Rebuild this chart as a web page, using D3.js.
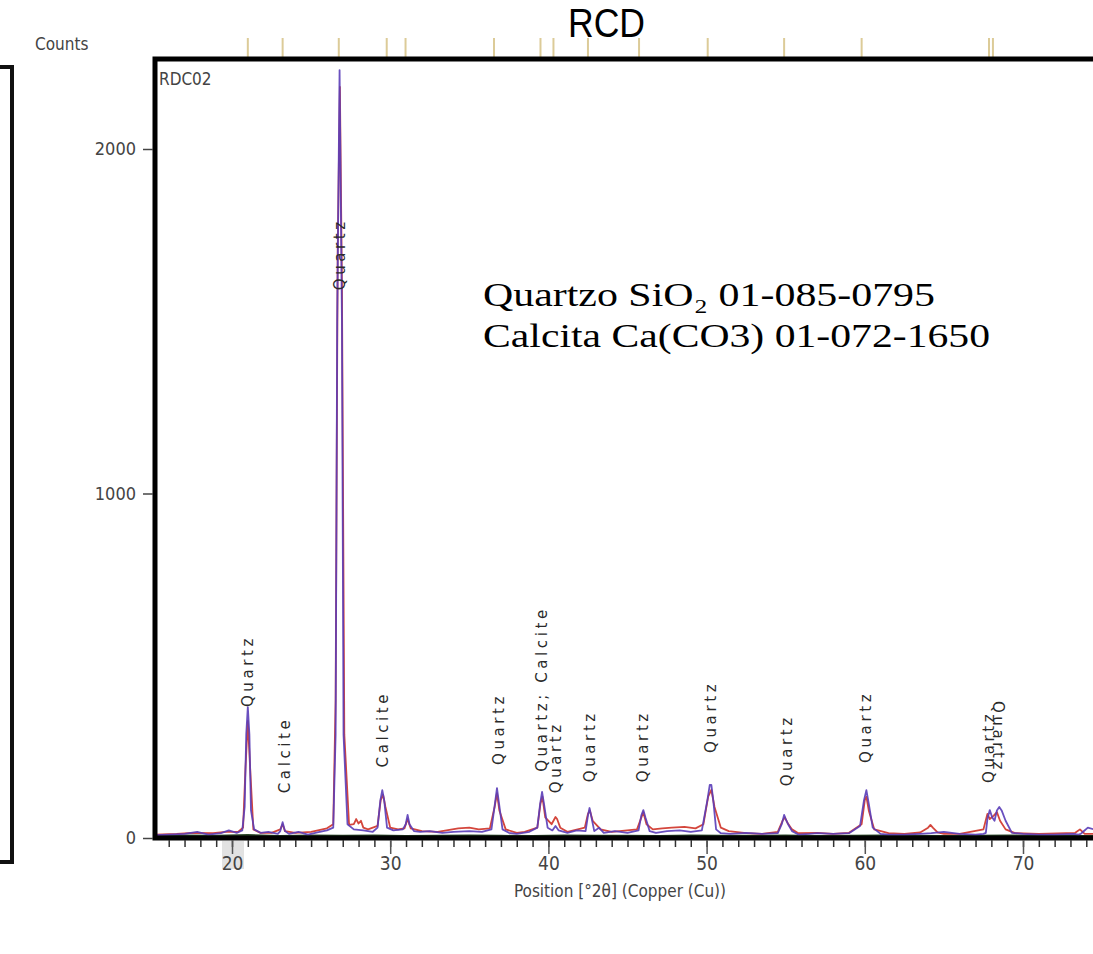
<!DOCTYPE html>
<html><head><meta charset="utf-8">
<script src="https://cdn.jsdelivr.net/npm/d3@7"></script>
<style>body{margin:0;background:#fff}svg{display:block}</style>
</head><body>
<script>
// ---- data (2θ in degrees, counts) ----
const blueTheta = [15.1,16,17,17.8,18.5,19.3,19.8,20.3,20.65,20.8,20.9,21.0,21.1,21.2,21.4,21.8,22.3,22.9,23.05,23.2,23.35,23.6,24.2,24.8,25.4,26.0,26.4,26.55,26.65,26.8,26.95,27.05,27.3,27.7,28.3,28.9,29.2,29.38,29.5,29.62,29.8,30.2,30.8,30.98,31.1,31.22,31.5,31.9,32.5,33.3,34,35,35.8,36.4,36.62,36.75,36.88,37.1,37.5,38,38.8,39.3,39.48,39.6,39.72,39.95,40.25,40.45,40.65,41.2,41.8,42.35,42.5,42.6,42.7,42.9,43.2,43.5,44.2,45,45.7,45.87,46.0,46.13,46.4,46.8,47.5,48.3,49,49.7,50.05,50.2,50.3,50.42,50.6,50.9,51.5,52.5,53.5,54.5,54.75,54.9,55.0,55.15,55.4,55.8,56.5,57,58,59,59.7,59.95,60.1,60.25,60.5,61,61.5,62.5,63.5,64.2,65,66,67,67.5,67.65,67.75,67.9,68.05,68.2,68.35,68.5,68.65,68.9,69.3,70,71,72,73.2,73.5,73.65,73.8,74.1,75];
const blueCounts = [8,10,12,18,10,14,22,15,22,90,300,380,300,80,25,15,18,12,20,46,20,12,18,10,16,22,30,300,1500,2229,1500,300,40,25,22,18,30,110,139,110,30,22,25,40,67,40,20,18,20,15,18,20,18,25,100,145,100,25,15,12,18,30,100,134,100,30,22,35,22,15,22,20,65,87,65,20,30,15,20,15,22,65,81,60,20,15,20,22,18,22,110,154,154,110,25,14,12,15,12,14,40,67,55,40,20,10,12,14,12,14,35,110,139,100,30,12,10,10,12,14,18,12,10,12,15,55,81,60,50,80,90,80,50,15,12,10,10,12,10,12,18,30,18,10,12];
const redTheta = [15.1,16.5,17.5,18.8,19.6,20.4,20.7,20.85,21.0,21.15,21.35,21.8,22.5,23.05,23.2,23.35,24,25,26.0,26.4,26.55,26.68,26.82,26.95,27.1,27.4,27.7,27.85,28.0,28.15,28.3,28.6,29.2,29.4,29.55,29.7,30.0,30.5,30.9,31.1,31.3,32,33,34.3,35,35.6,36.3,36.6,36.75,36.9,37.3,38,38.5,39.3,39.5,39.62,39.8,40.2,40.45,40.55,40.75,41.2,42.3,42.5,42.62,42.8,43.3,44,44.5,45.6,45.88,46.0,46.2,46.6,47.2,47.8,48.6,49.3,49.8,50.1,50.3,50.5,50.9,51.4,52.5,53.5,54.5,54.8,54.95,55.1,55.4,55.8,57,58,59,59.8,60.0,60.1,60.25,60.6,61.5,62.5,63.5,64.0,64.15,64.3,64.6,65,66,67.5,67.75,67.9,68.15,68.35,68.55,68.9,69.5,71,73.3,73.6,73.9,75];
const redCounts = [10,12,15,14,18,18,30,200,340,200,25,15,15,25,40,20,15,18,28,40,400,1700,2180,1600,300,38,40,55,42,50,30,25,35,110,125,90,30,25,28,55,28,20,18,28,30,25,28,90,130,80,25,15,18,30,100,120,60,40,61,55,30,18,30,70,80,50,25,18,20,25,60,75,40,25,28,30,32,28,40,120,140,90,30,20,14,12,18,50,60,45,25,14,15,12,15,40,110,120,80,25,14,12,16,30,38,30,16,12,12,25,70,55,65,75,50,25,14,12,15,25,12,12];
const greenTheta = [15.1,17,19,21,23,25,27,29,31,33,35,37,39,41,43,45,47,49,51,53,55,57,59,61,63,65,67,69,71,73,75];
const greenCounts = [5,6,5,7,4,6,5,6,4,5,6,5,4,6,5,5,4,6,5,5,6,4,5,6,5,4,5,6,5,4,5];
const refLines = [21.0,23.2,26.75,29.78,30.97,36.56,39.5,40.32,42.5,45.73,50.07,54.9,59.8,67.85,68.1];
const peakLabels = [
  {t:21.0,  c:380, text:"Quartz"},
  {t:23.35, c:130, text:"Calcite"},
  {t:26.85, c:1590, text:"Quartz"},
  {t:29.55, c:205, text:"Calcite"},
  {t:36.85, c:212, text:"Quartz"},
  {t:39.6,  c:192, text:"Quartz;  Calcite"},
  {t:40.45, c:130, text:"Quartz"},
  {t:42.6,  c:162, text:"Quartz"},
  {t:45.95, c:162, text:"Quartz"},
  {t:50.25, c:247, text:"Quartz"},
  {t:55.1,  c:150, text:"Quartz"},
  {t:60.1,  c:218, text:"Quartz"}
];
const xTicks = [20,30,40,50,60,70];
const yTicks = [0,1000,2000];
const legendLines = ["Quartzo SiO\u2082 01-085-0795","Calcita Ca(CO3) 01-072-1650"];

// ---- drawing ----
const W=1093,H=954;
const svg=d3.select("body").append("svg").attr("width",W).attr("height",H);
const x=d3.scaleLinear().domain([20,70]).range([232,1023]);
const y=d3.scaleLinear().domain([0,2000]).range([838,149]);
const yMax=y.invert(59);
const narrow="'Liberation Sans Narrow','DejaVu Sans Condensed','Arial Narrow',sans-serif";

// title
svg.append("text").attr("x",568).attr("y",37).attr("textLength",77).attr("lengthAdjust","spacingAndGlyphs")
  .attr("font-family","'Liberation Sans',Arial,sans-serif").attr("font-size",40).attr("fill","#000").text("RCD");

// left partial panel
svg.append("path").attr("d","M0,67 H12 V862 H0").attr("fill","none").attr("stroke","#111").attr("stroke-width",4);

// reference lines (top)
svg.append("g").selectAll("line").data(refLines).join("line")
  .attr("x1",d=>x(d)).attr("x2",d=>x(d)).attr("y1",38).attr("y2",58)
  .attr("stroke","#dccb98").attr("stroke-width",2);

// faint smudge under axis
svg.append("rect").attr("x",222).attr("y",841).attr("width",22).attr("height",28).attr("fill","#d6d6d6").attr("opacity",0.7);

svg.append("clipPath").attr("id","c").append("rect").attr("x",155).attr("y",60).attr("width",W).attr("height",785);
const plot=svg.append("g").attr("clip-path","url(#c)");
const line=d3.line().x(d=>x(d[0])).y(d=>y(d[1]));
plot.append("path").datum(d3.zip(greenTheta,greenCounts)).attr("d",line)
  .attr("fill","none").attr("stroke","#2c4a2a").attr("stroke-width",3);
plot.append("path").datum(d3.zip(redTheta,redCounts)).attr("d",line)
  .attr("fill","none").attr("stroke","#d4463c").attr("stroke-width",1.8).attr("stroke-linejoin","round");
plot.append("path").datum(d3.zip(blueTheta,blueCounts)).attr("d",line)
  .attr("fill","none").attr("stroke","#5a3db8").attr("stroke-width",1.8).attr("stroke-linejoin","round").attr("opacity",0.9);

// frame
svg.append("path").attr("d",`M${W+5},${y(yMax)} H155 V838 H${W+5}`).attr("fill","none").attr("stroke","#000").attr("stroke-width",5);

// x axis ticks
const xa=svg.append("g").attr("transform","translate(0,840)")
  .call(d3.axisBottom(x).tickValues(d3.range(16,75,1)).tickSize(7).tickFormat(""));
xa.select(".domain").remove();
xa.selectAll("line").attr("stroke","#333").attr("stroke-width",1.5);
const xb=svg.append("g").attr("transform","translate(0,840)")
  .call(d3.axisBottom(x).tickValues(xTicks).tickSize(14).tickPadding(3));
xb.select(".domain").remove();
xb.selectAll("line").attr("stroke","#555").attr("stroke-width",1.5);
xb.selectAll("text").attr("font-family",narrow).attr("font-size",19).attr("fill","#444");

// y axis
const ya=svg.append("g").attr("transform","translate(153,0)")
  .call(d3.axisLeft(y).tickValues(yTicks).tickSize(10).tickPadding(7).tickFormat(d3.format("d")));
ya.select(".domain").remove();
ya.selectAll("line").attr("stroke","#444").attr("stroke-width",1.5);
ya.selectAll("text").attr("font-family",narrow).attr("font-size",18).attr("fill","#444");

svg.append("text").attr("x",35).attr("y",50).attr("font-family",narrow).attr("font-size",17).attr("fill","#444").text("Counts");
svg.append("text").attr("x",159).attr("y",85).attr("font-family",narrow).attr("font-size",17).attr("fill","#444").text("RDC02");
svg.append("text").attr("x",620).attr("y",897).attr("text-anchor","middle").attr("font-family",narrow).attr("font-size",17).attr("fill","#444").text("Position [°2θ] (Copper (Cu))");

// peak labels
const lab=svg.append("g").attr("font-family","'DejaVu Sans',sans-serif").attr("font-size",15).attr("fill","#2a2a2a").attr("letter-spacing",3.6);
lab.selectAll("text").data(peakLabels).join("text")
  .attr("transform",d=>`translate(${x(d.t)+5},${y(d.c)}) rotate(-90)`).text(d=>d.text);
// overlapping pair at 68°
lab.append("text").attr("transform",`translate(${x(67.85)+5},${y(160)}) rotate(-90)`).text("Quartz");
lab.append("text").attr("transform",`translate(${x(68.4)-5},${y(398)}) rotate(90)`).text("Quartz");

// legend text
const lg=svg.append("g").attr("font-family","'Liberation Serif','DejaVu Serif',serif").attr("font-size",33).attr("fill","#000");
lg.append("text").attr("x",483).attr("y",306).attr("textLength",452).attr("lengthAdjust","spacingAndGlyphs").text(legendLines[0]);
lg.append("text").attr("x",483).attr("y",347).attr("textLength",507).attr("lengthAdjust","spacingAndGlyphs").text(legendLines[1]);
</script>
</body></html>
